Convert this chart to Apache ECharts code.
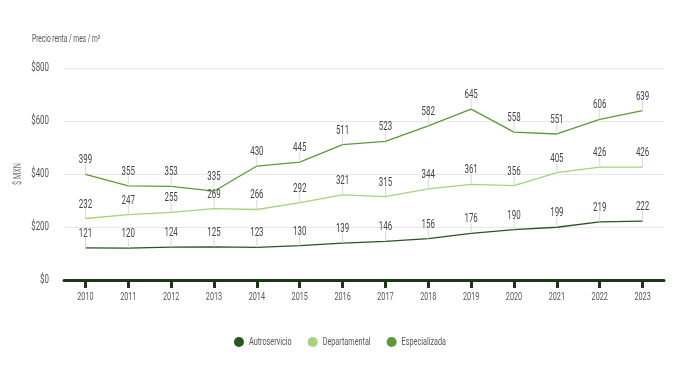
<!DOCTYPE html>
<html>
<head>
<meta charset="utf-8">
<script src="https://cdn.jsdelivr.net/npm/echarts@6/dist/echarts.min.js"></script>
<style>
html,body{margin:0;padding:0;background:#fff;}
#c{width:680px;height:365px;}
</style>
</head>
<body>
<div id="c"></div>
<script>
// Narrow the text horizontally to imitate the condensed typeface of the reference
(function(){
  var SX = 0.66;
  var proto = CanvasRenderingContext2D.prototype;
  var origFill = proto.fillText, origMeasure = proto.measureText;
  proto.fillText = function(t, x, y, mw){
    this.save();
    this.translate(x, y);
    this.scale(SX, 1);
    origFill.call(this, t, 0, 0);
    this.restore();
  };
  proto.measureText = function(t){
    var m = origMeasure.call(this, t);
    return {
      width: m.width * SX,
      actualBoundingBoxAscent: m.actualBoundingBoxAscent,
      actualBoundingBoxDescent: m.actualBoundingBoxDescent,
      actualBoundingBoxLeft: m.actualBoundingBoxLeft * SX,
      actualBoundingBoxRight: m.actualBoundingBoxRight * SX,
      fontBoundingBoxAscent: m.fontBoundingBoxAscent,
      fontBoundingBoxDescent: m.fontBoundingBoxDescent
    };
  };
})();

var years = ['2010','2011','2012','2013','2014','2015','2016','2017','2018','2019','2020','2021','2022','2023'];
var autoservicio = [121,120,124,125,123,130,139,146,156,176,190,199,219,222];
var departamental = [232,247,255,269,266,292,321,315,344,361,356,405,426,426];
var especializada = [399,355,353,335,430,445,511,523,582,645,558,551,606,639];
var seriesNames = ['Autroservicio','Departamental','Especializada'];
var colors = ['#2b5323','#a9d27c','#5b9a36'];
var FONT = 'Roboto, sans-serif';

function mk(name, data, color) {
  return {
    name: name,
    type: 'line',
    data: data,
    symbol: 'circle',
    symbolSize: 0.1,
    itemStyle: {color: color},
    lineStyle: {color: color, width: 1.3},
    label: {
      show: true,
      position: 'top',
      distance: 2,
      color: '#444',
      fontFamily: FONT,
      fontSize: 12
    },
    labelLayout: {dy: -8},
    labelLine: {show: true, lineStyle: {color: '#d8d8d8', width: 1}},
    emphasis: {disabled: true},
    animation: false
  };
}

var chart = echarts.init(document.getElementById('c'), null, {renderer: 'canvas'});
chart.setOption({
  animation: false,
  color: colors,
  textStyle: {fontFamily: FONT},
  title: {
    text: 'Precio renta / mes / m²',
    left: 32, top: 36, padding: 0,
    textStyle: {fontFamily: FONT, fontSize: 10, fontWeight: 'normal', color: '#555'}
  },
  grid: {left: 64, right: 16, top: 68, bottom: 85, outerBoundsMode: 'none', containLabel: false},
  legend: {
    bottom: 13,
    left: 'center',
    icon: 'circle',
    itemWidth: 10, itemHeight: 10,
    itemGap: 16,
    textStyle: {fontFamily: FONT, fontSize: 11, color: '#555'},
    data: seriesNames
  },
  xAxis: {
    type: 'category',
    data: years,
    boundaryGap: true,
    axisLine: {show: true, lineStyle: {color: '#1f3519', width: 3}},
    axisTick: {show: true, alignWithLabel: true, length: 8, lineStyle: {color: '#1f3519', width: 3}},
    axisLabel: {color: '#555', fontFamily: FONT, fontSize: 11, margin: 14}
  },
  yAxis: {
    type: 'value',
    min: 0, max: 800, interval: 200,
    name: '$ MXN',
    nameLocation: 'middle',
    nameGap: 42,
    nameMoveOverlap: false,
    nameTextStyle: {color: '#777', fontFamily: FONT, fontSize: 11},
    axisLine: {show: false},
    axisTick: {show: false},
    axisLabel: {color: '#555', fontFamily: FONT, fontSize: 12, margin: 15, formatter: function(v){return '$' + v;}},
    splitLine: {lineStyle: {color: '#e8e8e8', width: 1}}
  },
  series: [
    mk(seriesNames[0], autoservicio, colors[0]),
    mk(seriesNames[1], departamental, colors[1]),
    mk(seriesNames[2], especializada, colors[2])
  ]
});
</script>
</body>
</html>
